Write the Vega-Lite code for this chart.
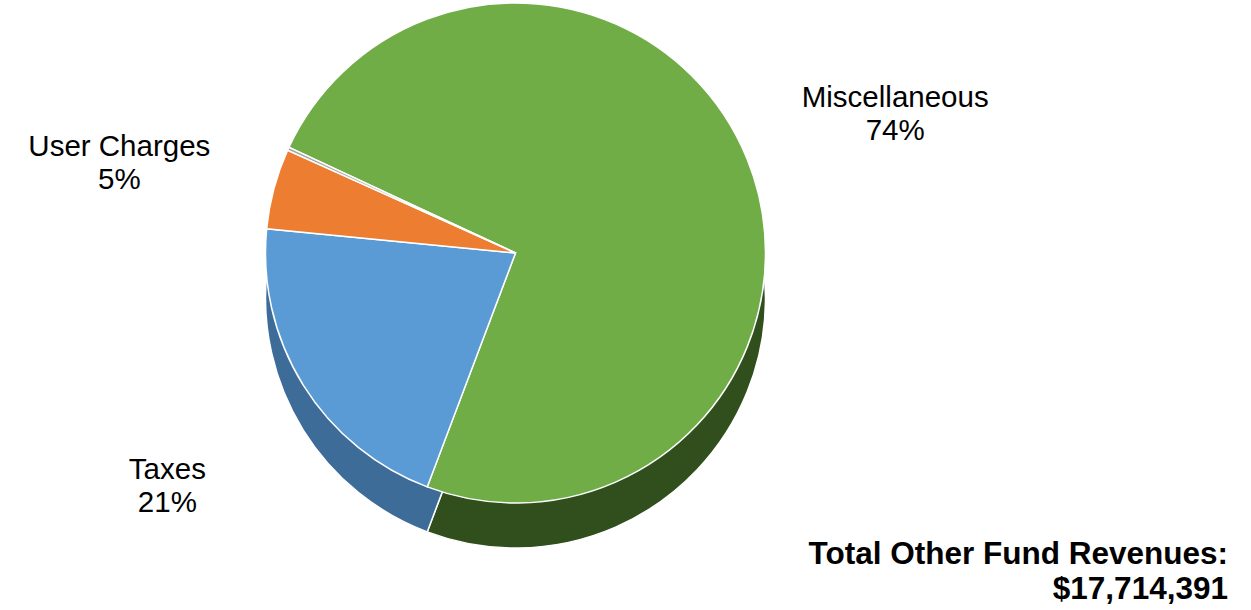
{
  "$schema": "https://vega.github.io/schema/vega-lite/v6.json",
  "width": 1031,
  "height": 504,
  "padding": 0,
  "background": "white",
  "config": {"view": {"stroke": null}},
  "title": {
    "text": ["Total Other Fund Revenues:", "$17,714,391"],
    "orient": "bottom",
    "anchor": "end",
    "dx": 197,
    "offset": -12,
    "font": "Liberation Sans",
    "fontSize": 31.5,
    "fontWeight": "bold",
    "lineHeight": 35,
    "color": "#000000"
  },
  "data": {
    "values": [
      {"Category": "Miscellaneous", "Share": 73.8, "idx": 1, "Label": "Miscellaneous\n74%"},
      {"Category": "Taxes", "Share": 20.8, "idx": 2, "Label": "Taxes\n21%"},
      {"Category": "User Charges", "Share": 5.2, "idx": 3, "Label": "User Charges\n5%"},
      {"Category": "Other", "Share": 0.2, "idx": 4, "Label": ""}
    ]
  },
  "encoding": {
    "theta": {"field": "Share", "type": "quantitative", "stack": true, "scale": {"range": [-1.1345, 5.1487]}},
    "order": {"field": "idx", "type": "quantitative"}
  },
  "layer": [
    {
      "mark": {"type": "arc", "outerRadius": 250, "yOffset": 45, "stroke": "#ffffff", "strokeWidth": 1.5},
      "encoding": {
        "color": {
          "field": "Category", "type": "nominal", "legend": null,
          "scale": {"domain": ["Miscellaneous", "Taxes", "User Charges", "Other"], "range": ["#304f1d", "#3e6c98", "#a9561f", "#7a7a7a"]}
        }
      }
    },
    {
      "mark": {"type": "arc", "outerRadius": 250, "stroke": "#ffffff", "strokeWidth": 1.5},
      "encoding": {
        "color": {
          "field": "Category", "type": "nominal", "legend": null,
          "scale": {"domain": ["Miscellaneous", "Taxes", "User Charges", "Other"], "range": ["#70AD47", "#5B9BD5", "#ED7D31", "#A5A5A5"]}
        }
      }
    },
    {
      "mark": {"type": "text", "radius": 410, "lineBreak": "\n", "font": "Liberation Sans", "fontSize": 29.5, "lineHeight": 33, "align": "center", "baseline": "middle", "color": "#000000"},
      "encoding": {"text": {"field": "Label", "type": "nominal"}}
    }
  ],
  "resolve": {"scale": {"color": "independent"}}
}
